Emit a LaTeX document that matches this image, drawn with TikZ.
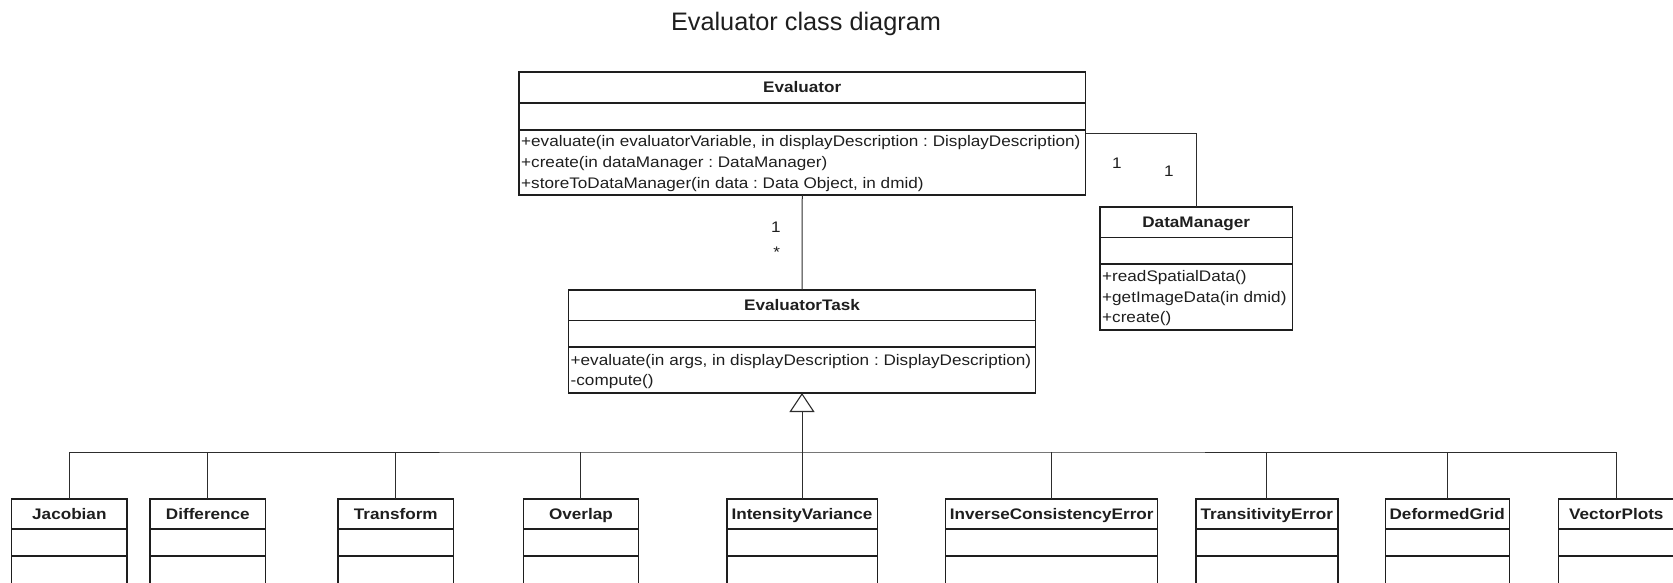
\documentclass[tikz,border=0pt]{standalone}
\usepackage{fontspec}
\setmainfont{Liberation Sans}
\newfontfamily\clsfont[FakeStretch=1.12]{Liberation Sans}
\usetikzlibrary{arrows.meta,fit}
\frenchspacing
\definecolor{ink}{RGB}{30,30,30}
\definecolor{conn}{RGB}{45,45,45}
\newcommand\classbox[8]{%
  \node[clsbox, fit={(#2,#3)(#4,#5)}] (#1) {};
  \draw[clsline] (#2,#6) -- (#4,#6);
  \draw[clsline] (#2,#7) -- (#4,#7);
  \node[clstitle] (#1-t) at ({(#2+#4)/2},{(#3+#6)/2+5.2}) {#8};
}
\begin{document}
\begin{tikzpicture}[x=1pt,y=-1pt,
  clsbox/.style={draw=ink, line width=1.4pt, inner sep=0pt, outer sep=0pt},
  clsline/.style={draw=ink, line width=1.4pt},
  clstitle/.style={anchor=base, inner sep=0pt, font=\clsfont\fontsize{15.3}{18}\selectfont\bfseries\frenchspacing, text=ink},
  meth/.style={anchor=base west, inner sep=0pt, font=\clsfont\fontsize{15.3}{18}\selectfont\frenchspacing, text=ink},
  mult/.style={anchor=center, inner sep=0pt, font=\clsfont\fontsize{15.3}{18}\selectfont, text=ink},
  link/.style={draw=conn, line width=1pt},
  gen/.style={link, -{Triangle[open, length=19pt, width=25pt, line width=1.1pt]}},
]
\useasboundingbox (0,0) rectangle (1673,582);
\clip (0,0) rectangle (1673,582);

\node[anchor=base, inner sep=0pt, font=\fontsize{25.3}{30}\selectfont, text=ink] (title) at (806,30.7) {Evaluator class diagram};

% Evaluator
\classbox{ev}{519}{72}{1085.5}{195}{103}{130}{Evaluator}
\node[meth] (ev-m1) at (521,146) {+evaluate(in evaluatorVariable, in displayDescription : DisplayDescription)};
\node[meth] (ev-m2) at (521,167) {+create(in dataManager : DataManager)};
\node[meth] (ev-m3) at (521,188) {+storeToDataManager(in data : Data Object, in dmid)};

% DataManager
\classbox{dm}{1100}{207}{1292.3}{330}{237.5}{264}{DataManager}
\node[meth] (dm-m1) at (1102,281.5) {+readSpatialData()};
\node[meth] (dm-m2) at (1102,302) {+getImageData(in dmid)};
\node[meth] (dm-m3) at (1102,322.5) {+create()};

% EvaluatorTask
\classbox{task}{568.5}{290}{1035.5}{393}{320.5}{347}{EvaluatorTask}
\node[meth] (task-m1) at (570.5,365.5) {+evaluate(in args, in displayDescription : DisplayDescription)};
\node[meth] (task-m2) at (570.5,385) {-compute()};

% subclasses
\classbox{jac}{11.7}{499}{127}{610}{529}{556}{Jacobian}
\classbox{dif}{150}{499}{265.7}{610}{529}{556}{Difference}
\classbox{tra}{338}{499}{453.6}{610}{529}{556}{Transform}
\classbox{ove}{523.2}{499}{638.7}{610}{529}{556}{Overlap}
\classbox{iva}{726.8}{499}{877.2}{610}{529}{556}{IntensityVariance}
\classbox{ice}{945.7}{499}{1157.7}{610}{529}{556}{InverseConsistencyError}
\classbox{tre}{1195.8}{499}{1337.8}{610}{529}{556}{TransitivityError}
\classbox{dgr}{1385.2}{499}{1509.2}{610}{529}{556}{DeformedGrid}
\classbox{vpl}{1558.7}{499}{1674}{610}{529}{556}{VectorPlots}

% connectors
\draw[link] (ev.east) -| (dm.north);
\draw[link] (ev.south) -- (task.north);
\draw[gen] (iva.north) -- (task.south);
\coordinate (bus) at (802,452);
\draw[link] (jac.north) |- (bus) -| (vpl.north);
\foreach \n in {dif,tra,ove,ice,tre,dgr} \draw[link] (\n.north) -- (\n.north |- bus);

% multiplicities
\node[mult] (m1) at (776,227.7) {1};
\node[mult] (m2) at (776.7,252.7) {*};
\node[mult] (m3) at (1117,163) {1};
\node[mult] (m4) at (1169,171) {1};
\end{tikzpicture}
\end{document}
